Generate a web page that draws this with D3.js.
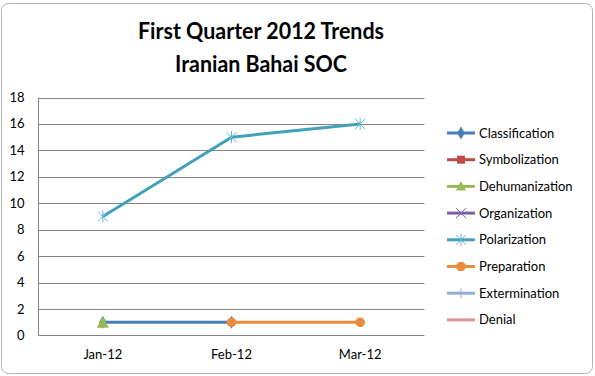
<!DOCTYPE html>
<html>
<head>
<meta charset="utf-8">
<script src="https://cdn.jsdelivr.net/npm/d3@7"></script>
<style>
  body { margin: 0; background: #fff; }
  svg { display: block; font-family: Lato, "Open Sans", sans-serif; }
</style>
</head>
<body>
<svg id="chart" width="595" height="376"></svg>
<script>
// chart data
var titleLines = ["First Quarter 2012 Trends", "Iranian Bahai SOC"];
var categories = ["Jan-12", "Feb-12", "Mar-12"];
var yTicks = [0, 2, 4, 6, 8, 10, 12, 14, 16, 18];

var seriesNames = ["Classification", "Symbolization", "Dehumanization", "Organization",
                   "Polarization", "Preparation", "Extermination", "Denial"];
var classification = [1, 1, null];
var symbolization = [null, null, null];
var dehumanization = [1, null, null];
var organization = [null, null, null];
var polarization = [9, 15, 16];
var preparation = [null, 1, 1];
var extermination = [null, null, null];
var denial = [null, null, null];

var seriesValues = [classification, symbolization, dehumanization, organization,
                    polarization, preparation, extermination, denial];
var colors = ["#4a7ebb", "#be4b48", "#98b954", "#7d60a0", "#43a0ba", "#ec8a3e", "#95acd4", "#d99694"];
var markers = ["diamond", "square", "triangle", "x", "star", "circle", "plus", "none"];

var svg = d3.select("#chart");

// outer frame
svg.append("rect")
    .attr("x", 1.5).attr("y", 3.5)
    .attr("width", 591).attr("height", 370)
    .attr("rx", 7)
    .attr("fill", "#fff")
    .attr("stroke", "#b4b4b4");

// title
svg.append("text")
    .attr("x", 261).attr("y", 39)
    .attr("text-anchor", "middle")
    .attr("font-size", 23).attr("font-weight", "bold")
    .attr("textLength", 246).attr("lengthAdjust", "spacingAndGlyphs")
    .attr("fill", "#000")
    .text(titleLines[0]);
svg.append("text")
    .attr("x", 261).attr("y", 72)
    .attr("text-anchor", "middle")
    .attr("font-size", 23).attr("font-weight", "bold")
    .attr("textLength", 172).attr("lengthAdjust", "spacingAndGlyphs")
    .attr("fill", "#000")
    .text(titleLines[1]);

var margin = {left: 38.5, top: 97.5, right: 424.5, bottom: 335.5};

var x = d3.scaleBand().domain(categories).range([margin.left, margin.right]);
var y = d3.scaleLinear().domain([0, 18]).range([margin.bottom, margin.top]);

// gridlines
svg.append("g").selectAll("line")
    .data(yTicks.slice(1))
    .enter().append("line")
    .attr("x1", margin.left).attr("x2", margin.right)
    .attr("y1", function (d) { return Math.round(y(d)) + 0.5; })
    .attr("y2", function (d) { return Math.round(y(d)) + 0.5; })
    .attr("stroke", "#868686");

// axes lines
svg.append("line")
    .attr("x1", margin.left).attr("x2", margin.left)
    .attr("y1", margin.top).attr("y2", margin.bottom)
    .attr("stroke", "#868686");
svg.append("line")
    .attr("x1", margin.left).attr("x2", margin.right)
    .attr("y1", margin.bottom).attr("y2", margin.bottom)
    .attr("stroke", "#868686");

// y tick labels
svg.append("g").selectAll("text")
    .data(yTicks)
    .enter().append("text")
    .attr("x", 24.5)
    .attr("y", function (d) { return y(d); })
    .attr("dy", "0.35em")
    .attr("text-anchor", "end")
    .attr("font-size", 13)
    .attr("fill", "#000")
    .text(function (d) { return d; });

// x labels
svg.append("g").selectAll("text")
    .data(categories)
    .enter().append("text")
    .attr("x", function (d) { return x(d) + x.bandwidth() / 2; })
    .attr("y", 359)
    .attr("text-anchor", "middle")
    .attr("font-size", 13)
    .attr("fill", "#000")
    .text(function (d) { return d; });

function drawMarker(g, type, color, cx, cy, big) {
    if (type === "diamond") {
        g.append("path").attr("d", d3.symbol(d3.symbolDiamond, 50)()).attr("transform", "translate(" + cx + "," + cy + ")").attr("fill", color);
    } else if (type === "square") {
        g.append("rect").attr("x", cx - 4).attr("y", cy - 4).attr("width", 8).attr("height", 8).attr("fill", color);
    } else if (type === "triangle") {
        var w = big ? 6 : 5, h1 = big ? 6 : 5.5, h2 = big ? 5.5 : 4;
        g.append("path").attr("d", "M" + cx + "," + (cy - h1) + "L" + (cx + w) + "," + (cy + h2) + "L" + (cx - w) + "," + (cy + h2) + "Z").attr("fill", color);
    } else if (type === "circle") {
        g.append("circle").attr("cx", cx).attr("cy", cy).attr("r", 4.8).attr("fill", color);
    } else if (type === "x") {
        g.append("path").attr("d", "M" + (cx - 5) + "," + (cy - 5) + "L" + (cx + 5) + "," + (cy + 5) + "M" + (cx - 5) + "," + (cy + 5) + "L" + (cx + 5) + "," + (cy - 5))
            .attr("stroke", color).attr("stroke-width", 1).attr("fill", "none");
    } else if (type === "star") {
        g.append("path").attr("d", "M" + (cx - 5) + "," + (cy - 5) + "L" + (cx + 5) + "," + (cy + 5) + "M" + (cx - 5) + "," + (cy + 5) + "L" + (cx + 5) + "," + (cy - 5) + "M" + cx + "," + (cy - 6) + "L" + cx + "," + (cy + 6))
            .attr("stroke", color).attr("stroke-width", 1).attr("fill", "none");
    } else if (type === "plus") {
        g.append("path").attr("d", "M" + cx + "," + (cy - 5) + "L" + cx + "," + (cy + 5))
            .attr("stroke", color).attr("stroke-width", 1).attr("fill", "none");
    }
}

var line = d3.line()
    .defined(function (d) { return d != null; })
    .x(function (d, i) { return x(categories[i]) + x.bandwidth() / 2; })
    .y(function (d) { return y(d); });

var plot = svg.append("g");
seriesValues.forEach(function (vals, s) {
    var g = plot.append("g");
    g.append("path")
        .attr("d", line(vals))
        .attr("fill", "none")
        .attr("stroke", colors[s])
        .attr("stroke-width", 3)
        .attr("stroke-linejoin", "round");
    vals.forEach(function (v, i) {
        if (v == null) return;
        var c = colors[s];
        if (markers[s] === "star") c = "#5fb7d0";
        drawMarker(g, markers[s], c, x(categories[i]) + x.bandwidth() / 2, y(v), true);
    });
});

// legend
var legend = svg.append("g");
seriesNames.forEach(function (name, i) {
    var ly = 133 + i * 26.7;
    legend.append("line")
        .attr("x1", 447).attr("x2", 475)
        .attr("y1", ly).attr("y2", ly)
        .attr("stroke", colors[i]).attr("stroke-width", 3);
    drawMarker(legend, markers[i], colors[i] === "#43a0ba" ? "#5fb7d0" : colors[i], 461, ly, false);
    legend.append("text")
        .attr("x", 479).attr("y", ly)
        .attr("dy", "0.35em")
        .attr("font-size", 13)
        .attr("fill", "#000")
        .text(name);
});
</script>
</body>
</html>
